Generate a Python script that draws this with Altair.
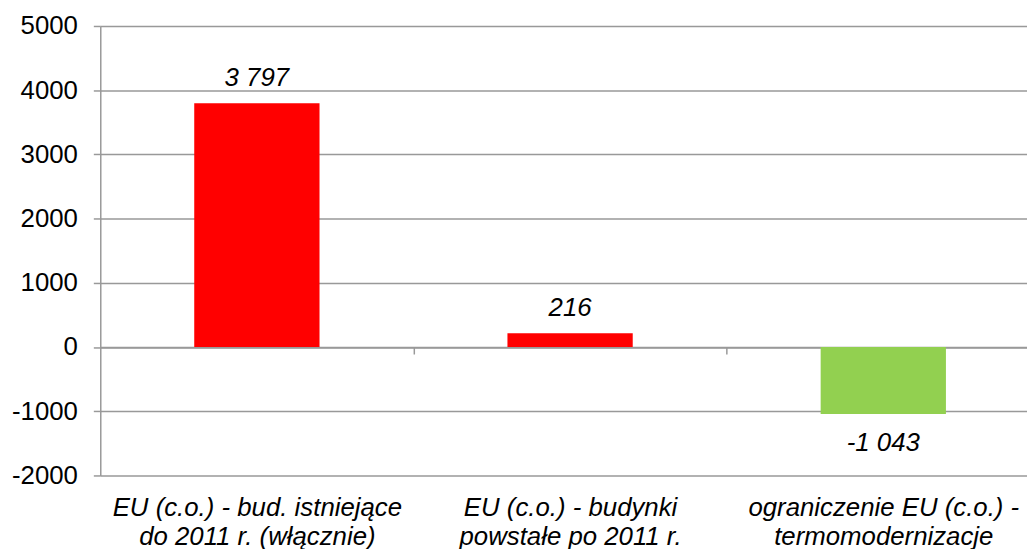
import altair as alt
import pandas as pd

categories = [
    "EU (c.o.) - bud. istniejące|do 2011 r. (włącznie)",
    "EU (c.o.) - budynki|powstałe po 2011 r.",
    "ograniczenie EU (c.o.) -|termomodernizacje",
]
values = [3797, 216, -1043]
colors = ["#FF0000", "#FF0000", "#92D050"]
y_ticks = [-2000, -1000, 0, 1000, 2000, 3000, 4000, 5000]

labels = [f"{v:,}".replace(",", " ") for v in values]
df = pd.DataFrame({"cat": categories, "value": values, "color": colors, "label": labels})

FONT = "Liberation Sans"
GRAY = "#999999"
FS = 26
STEP = 947 / 3

x = alt.X(
    "cat:N", sort=None, title=None,
    scale=alt.Scale(paddingInner=0.6, paddingOuter=0.3),
    axis=alt.Axis(
        orient="bottom", offset=-129.4, labelAngle=0,
        labelExpr="split(datum.label, '|')",
        labelFont=FONT, labelFontSize=FS, labelFontStyle="italic", labelColor="black",
        labelPadding=141.5, labelLineHeight=29, labelLimit=600, labelOverlap=False,
        tickOffset=STEP / 2, labelOffset=-STEP / 2, tickSize=7, tickColor=GRAY, tickWidth=1.5,
        domainColor=GRAY, domainWidth=1.5, grid=False,
    ),
)
y = alt.Y(
    "value:Q", title=None,
    scale=alt.Scale(domain=[-2000, 5000], nice=False),
    axis=alt.Axis(
        values=y_ticks, labelExpr="toString(datum.value)", labelFont=FONT, labelFontSize=FS,
        labelColor="black", labelPadding=16, tickSize=7, tickColor=GRAY, tickWidth=1.5,
        domainColor=GRAY, domainWidth=1.5, gridColor=GRAY, gridWidth=1.5,
    ),
)

base = alt.Chart(df)
bars = base.mark_bar().encode(x=x, y=y, color=alt.Color("color:N", scale=None))
pos = base.transform_filter("datum.value >= 0").mark_text(
    baseline="alphabetic", dy=-17.5, font=FONT, fontSize=FS, fontStyle="italic", color="black"
).encode(x=x, y=y, text="label:N")
neg = base.transform_filter("datum.value < 0").mark_text(
    baseline="alphabetic", dy=37, font=FONT, fontSize=FS, fontStyle="italic", color="black"
).encode(x=x, y=y, text="label:N")

chart = alt.layer(bars, pos, neg).properties(
    width=947, height=453,
    autosize=alt.AutoSizeParams(type="none"),
    padding={"left": 93, "top": 16, "right": -13, "bottom": 72},
).configure_view(strokeWidth=0)

chart.save("out.html", embed_options={"renderer": "svg", "actions": False})
